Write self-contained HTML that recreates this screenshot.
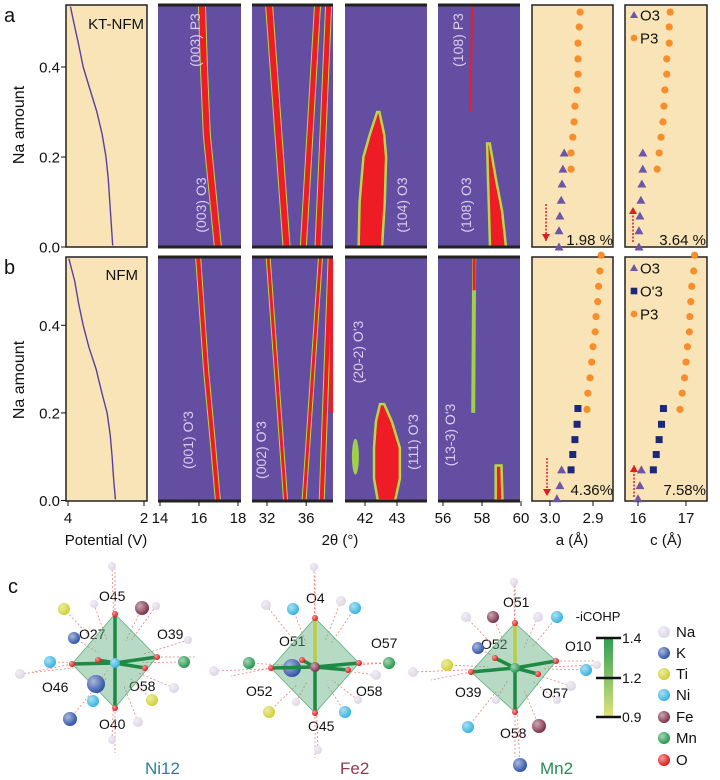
<!DOCTYPE html>
<html><head><meta charset="utf-8"><style>
html,body{margin:0;padding:0;background:#fff}
svg{display:block;font-family:"Liberation Sans",sans-serif}
</style></head><body>
<svg id="fig" width="720" height="780" viewBox="0 0 720 780">
<defs>
<linearGradient id="cb" x1="0" y1="0" x2="0" y2="1"><stop offset="0" stop-color="#2e9e57"/><stop offset="1" stop-color="#dfe57a"/></linearGradient>
<radialGradient id="sh" cx="0.35" cy="0.35" r="0.7"><stop offset="0" stop-color="#fff" stop-opacity="0.6"/><stop offset="1" stop-color="#fff" stop-opacity="0"/></radialGradient>
</defs>
<g id="panels"></g>
<g id="marks"></g>
<g id="labels"></g>
<g id="struct"></g>
</svg>
<script>
// ---- data ----
const naPotA=[0.54,0.5,0.45,0.4,0.35,0.3,0.25,0.2,0.15,0.1,0.05,0.0];
const potA=[3.95,3.85,3.72,3.6,3.42,3.24,3.1,3.0,2.94,2.9,2.86,2.82];
const naPotB=[0.56,0.5,0.45,0.4,0.35,0.3,0.25,0.2,0.15,0.1,0.05,0.0];
const potB=[4.0,3.82,3.72,3.6,3.45,3.26,3.12,2.97,2.89,2.84,2.8,2.75];
// row a peak bands (na, 2theta)
const bandA003Na=[0.54,0.4,0.25,0.0], bandA003Pos=[16.15,16.25,16.4,16.97];
const bandA3aNa=[0.54,0.0], bandA3aPos=[32.2,34.0];
const bandA3bNa=[0.54,0.0], bandA3bPos=[37.16,35.7];
const bandA3cNa=[0.54,0.0], bandA3cPos=[38.3,37.2];
const blobA104Na=[0.3,0.25,0.2,0.1,0.0], blobA104L=[42.38,42.15,41.95,41.83,41.8], blobA104R=[42.45,42.6,42.66,42.62,42.53];
const bandA108P3Na=[0.54,0.4,0.3], bandA108P3Pos=[57.49,57.44,57.38];
const blobA108Na=[0.23,0.15,0.08,0.0], blobA108L=[58.26,58.31,58.36,58.41], blobA108R=[58.4,58.72,59.03,59.23];
// row b
const bandB001Na=[0.56,0.3,0.15,0.0], bandB001Pos=[15.95,16.36,16.67,16.97];
const bandB3aNa=[0.56,0.0], bandB3aPos=[32.1,33.9];
const bandB3bNa=[0.56,0.0], bandB3bPos=[37.47,35.79];
const bandB3cNa=[0.56,0.0], bandB3cPos=[38.5,37.58];
const blobB111Na=[0.22,0.18,0.12,0.05,0.0], blobB111L=[42.47,42.34,42.28,42.28,42.4], blobB111R=[42.6,42.84,43.09,43.09,42.94];
const bandB133Na=[0.56,0.2], bandB133Pos=[57.6,57.55];
const blobB133Na=[0.08,0.0], blobB133L=[58.7,58.7], blobB133R=[59.0,59.05];
// lattice parameters
const aP3NaA=[0.522,0.489,0.453,0.418,0.384,0.349,0.313,0.278,0.244,0.209,0.173];
const aP3A=[2.930,2.932,2.935,2.935,2.935,2.937,2.942,2.944,2.947,2.951,2.951];
const aO3NaA=[0.209,0.173,0.14,0.104,0.069,0.036,0.0];
const aO3A=[2.967,2.970,2.972,2.974,2.977,2.979,2.979];
const cP3A=[16.67,16.65,16.65,16.60,16.60,16.56,16.54,16.52,16.48,16.44,16.40];
const cO3A=[16.10,16.10,16.08,16.06,16.04,16.02,16.02];
const aP3NaB=[0.56,0.524,0.489,0.454,0.42,0.385,0.351,0.316,0.28,0.245,0.208];
const aP3B=[2.881,2.884,2.887,2.889,2.893,2.895,2.900,2.903,2.907,2.912,2.914];
const aO3pNaB=[0.21,0.174,0.139,0.105,0.07];
const aO3pB=[2.935,2.937,2.942,2.947,2.951];
const aO3NaB=[0.07,0.034,0.004];
const aO3B=[2.973,2.977,2.984];
const cP3B=[17.18,17.16,17.12,17.10,17.08,17.07,17.03,17.00,16.97,16.92,16.875];
const cO3pB=[16.53,16.49,16.44,16.38,16.32];
const cO3B=[16.07,16.04,16.0];
const naTicks=[0.0,0.2,0.4], naTickLabels=["0.0","0.2","0.4"];

// ---- scales ----
const NS="http://www.w3.org/2000/svg";
const yA=n=>247-n*450, yB=n=>500.5-n*438;
const xV=v=>68+(4-v)*38;
const x2a=t=>160+(t-14)*19.5, x2b=t=>267+(t-32)*9.8, x2c=t=>365+(t-42)*32, x2d=t=>443+(t-56)*19.5;
const xa=a=>550+(3.0-a)*430, xc=c=>638+(c-16)*48;
function mk(tag,at,parent,txt){const e=document.createElementNS(NS,tag);for(const k in at)e.setAttribute(k,at[k]);if(txt!==undefined)e.textContent=txt;document.getElementById(parent).appendChild(e);return e;}

const cols=[[66,147,'b'],[158,241,'h'],[252,333,'h'],[345,427,'h'],[438,520,'h'],[532,613,'b'],[625,707,'b']];
const rows=[[5,247],[257,501]];
const colNames=['potential-panel','xrd-003-panel','xrd-mid-panel','xrd-104-panel','xrd-108-panel','a-param-panel','c-param-panel'];
rows.forEach((r,ri)=>cols.forEach((c,ci)=>{
  const isB=c[2]==='b';
  const e=mk('rect',{x:c[0],y:r[0],width:c[1]-c[0],height:r[1]-r[0],fill:isB?'#f9e4b7':'#634ea1',stroke:isB?'#222':'none','stroke-width':1.5},'panels');
  
  
  if(!isB){
    const t=mk('line',{x1:c[0],x2:c[1],y1:r[0],y2:r[0],stroke:'#222','stroke-width':3},'panels');
    
    
    const b=mk('line',{x1:c[0],x2:c[1],y1:r[1],y2:r[1],stroke:'#222','stroke-width':3},'panels');
    
    
  }
}));
cols.forEach((c,ci)=>rows.forEach((r,ri)=>{
  const cp=mk('clipPath',{id:'cp'+ci+'_'+ri},'panels');
  const rr=document.createElementNS(NS,'rect');rr.setAttribute('x',c[0]);rr.setAttribute('y',r[0]+1.5);rr.setAttribute('width',c[1]-c[0]);rr.setAttribute('height',r[1]-r[0]-3);cp.appendChild(rr);
}));
function grp(ci,ri,name){const g=mk('g',{'clip-path':'url(#cp'+ci+'_'+ri+')'},'marks');return g;}
function line(g,nas,vals,xf,yf,color,w,name){
  const d=nas.map((n,i)=>(i?'L':'M')+xf(vals[i]).toFixed(1)+','+yf(n).toFixed(1)).join('');
  const p=document.createElementNS(NS,'path');p.setAttribute('d',d);p.setAttribute('fill','none');p.setAttribute('stroke',color);p.setAttribute('stroke-width',w);p.setAttribute('stroke-linejoin','round');
  
  
  g.appendChild(p);return p;
}
function band(g,nas,vals,xf,yf,w,name){line(g,nas,vals,xf,yf,'#b8d84a',w+2,name+'-halo');line(g,nas,vals,xf,yf,'#ee1c24',w,name);}
function blob(g,nas,L,R,xf,yf,name){
  let d='M'+nas.map((n,i)=>xf(L[i]).toFixed(1)+','+yf(n).toFixed(1)).join('L');
  for(let i=nas.length-1;i>=0;i--)d+='L'+xf(R[i]).toFixed(1)+','+yf(nas[i]).toFixed(1);
  d+='Z';
  const h=document.createElementNS(NS,'path');h.setAttribute('d',d);h.setAttribute('fill','#ee1c24');h.setAttribute('stroke','#b8d84a');h.setAttribute('stroke-width',2.5);
  
  
  g.appendChild(h);
}
line(grp(0,0,'potential-a'),naPotA,potA,xV,yA,'#5a3fa0',1.4,'potential-curve-a');
line(grp(0,1,'potential-b'),naPotB,potB,xV,yB,'#5a3fa0',1.4,'potential-curve-b');
let g=grp(1,0,'heat-a-003');band(g,bandA003Na,bandA003Pos,x2a,yA,6,'peak-003');
g=grp(2,0,'heat-a-mid');band(g,bandA3aNa,bandA3aPos,x2b,yA,6,'peak-a1');band(g,bandA3bNa,bandA3bPos,x2b,yA,5,'peak-a2');band(g,bandA3cNa,bandA3cPos,x2b,yA,5,'peak-a3');
g=grp(3,0,'heat-a-104');blob(g,blobA104Na,blobA104L,blobA104R,x2c,yA,'peak-104');
g=grp(4,0,'heat-a-108');line(g,bandA108P3Na,bandA108P3Pos,x2d,yA,'#ee1c24',2,'peak-108-p3');blob(g,blobA108Na,blobA108L,blobA108R,x2d,yA,'peak-108-o3');
g=grp(1,1,'heat-b-001');band(g,bandB001Na,bandB001Pos,x2a,yB,4,'peak-001');
g=grp(2,1,'heat-b-mid');band(g,bandB3aNa,bandB3aPos,x2b,yB,3,'peak-b1');band(g,bandB3bNa,bandB3bPos,x2b,yB,3,'peak-b2');band(g,bandB3cNa,bandB3cPos,x2b,yB,4,'peak-b3');
line(g,[0.56,0.2],[38.7,38.6],x2b,yB,'#ee1c24',5,'peak-b3-thick');
g=grp(3,1,'heat-b-111');blob(g,blobB111Na,blobB111L,blobB111R,x2c,yB,'peak-111');
mk('ellipse',{cx:x2c(41.7),cy:yB(0.1),rx:3.5,ry:18,fill:'#9fd04a'},'marks');
g=grp(4,1,'heat-b-133');line(g,bandB133Na,bandB133Pos,x2d,yB,'#9fd04a',4,'peak-133');line(g,[0.56,0.48],[57.6,57.6],x2d,yB,'#ee1c24',3,'peak-133-top');blob(g,blobB133Na,blobB133L,blobB133R,x2d,yB,'peak-133-o3');
function pts(nas,vals,xf,yf,shape,color,name){
  const G=mk('g',{},'marks');
  
  
  nas.forEach((n,i)=>{const x=xf(vals[i]),y=yf(n);let e;
    if(shape==='c'){e=document.createElementNS(NS,'circle');e.setAttribute('cx',x);e.setAttribute('cy',y);e.setAttribute('r',3.6);}
    else if(shape==='t'){e=document.createElementNS(NS,'polygon');e.setAttribute('points',`${x},${y-4.5} ${x-4.5},${y+3.5} ${x+4.5},${y+3.5}`);}
    else {e=document.createElementNS(NS,'rect');e.setAttribute('x',x-3.5);e.setAttribute('y',y-3.5);e.setAttribute('width',7);e.setAttribute('height',7);}
    e.setAttribute('fill',color);
    
    
    G.appendChild(e);});
}
const OR='#f78e2b',TR='#6e55a8',SQ='#1e2878';
pts(aP3NaA,aP3A,xa,yA,'c',OR,'a-p3-row-a');pts(aO3NaA,aO3A,xa,yA,'t',TR,'a-o3-row-a');
pts(aP3NaA,cP3A,xc,yA,'c',OR,'c-p3-row-a');pts(aO3NaA,cO3A,xc,yA,'t',TR,'c-o3-row-a');
pts(aP3NaB,aP3B,xa,yB,'c',OR,'a-p3-row-b');pts(aO3pNaB,aO3pB,xa,yB,'s',SQ,'a-o3p-row-b');pts(aO3NaB,aO3B,xa,yB,'t',TR,'a-o3-row-b');
pts(aP3NaB,cP3B,xc,yB,'c',OR,'c-p3-row-b');pts(aO3pNaB,cO3pB,xc,yB,'s',SQ,'c-o3p-row-b');pts(aO3NaB,cO3B,xc,yB,'t',TR,'c-o3-row-b');

function T(x,y,s,txt,name,extra){const e=mk('text',Object.assign({x:x,y:y,'font-size':s,fill:'#111'},extra||{}),'labels',txt);return e;}
[yA,yB].forEach((yf,ri)=>{naTicks.forEach((n,i)=>{T(60,yf(n)+5.5,15,naTickLabels[i],'y-tick-label',{'text-anchor':'end'});
 const l=mk('line',{x1:61,x2:66,y1:yf(n),y2:yf(n),stroke:'#111'},'labels');});
 T(24,ri?380:125,16,'Na amount','y-axis-title',{'text-anchor':'middle',transform:`rotate(-90 24 ${ri?380:125})`});});
T(4,22,20,'a','panel-a-label');T(4,274,20,'b','panel-b-label');T(8,593,20,'c','panel-c-label');
T(144,29,15,'KT-NFM','kt-nfm-label',{'text-anchor':'end'});T(138,280,15,'NFM','nfm-label',{'text-anchor':'end'});
const xt=[[xV(4),'4'],[xV(2),'2'],[x2a(14),'14'],[x2a(16),'16'],[x2a(18),'18'],[x2b(32),'32'],[x2b(36),'36'],[x2c(42),'42'],[x2c(43),'43'],[x2d(56),'56'],[x2d(58),'58'],[x2d(60),'60'],[xa(3.0),'3.0'],[xa(2.9),'2.9'],[xc(16),'16'],[xc(17),'17']];
xt.forEach(t=>{T(t[0],523,15,t[1],'x-tick-label',{'text-anchor':'middle'});const l=mk('line',{x1:t[0],x2:t[0],y1:501,y2:506,stroke:'#111'},'labels');});
T(106,545,15,'Potential (V)','x-title-potential',{'text-anchor':'middle'});T(340,545,15,'2θ (°)','x-title-2theta',{'text-anchor':'middle'});
T(572,545,15,'a (Å)','x-title-a',{'text-anchor':'middle'});T(666,545,15,'c (Å)','x-title-c',{'text-anchor':'middle'});
const pl=[[200,40,'(003) P3'],[206,205,'(003) O3'],[407,205,'(104) O3'],[463,40,'(108) P3'],[471,205,'(108) O3'],[193,440,"(001) O'3"],[266,450,"(002) O'3"],[363,352,"(20-2) O'3"],[418,442,"(111) O'3"],[455,435,"(13-3) O'3"]];
pl.forEach(p=>T(p[0],p[1],14,p[2],'peak-label',{fill:'#d8d0ef','text-anchor':'middle',transform:`rotate(-90 ${p[0]} ${p[1]})`}));
function arrow(x,y1,y2,name){const l=mk('line',{x1:x,x2:x,y1:y1,y2:y2,stroke:'#e01b24','stroke-width':1.5,'stroke-dasharray':'2 1.5'},'labels');
 const d=y2>y1?1:-1;const h=mk('polygon',{points:`${x},${y2} ${x-4},${y2-7*d} ${x+4},${y2-7*d}`,fill:'#e01b24'},'labels');}
arrow(546,204,241,'arrow-a-row-a');arrow(633,242,207,'arrow-c-row-a');arrow(547,458,496,'arrow-a-row-b');arrow(634,497,465,'arrow-c-row-b');
T(613,245,15,'1.98 %','shrink-a-row-a',{'text-anchor':'end'});T(706,245,15,'3.64 %','shrink-c-row-a',{'text-anchor':'end'});
T(613,495,15,'4.36%','shrink-a-row-b',{'text-anchor':'end'});T(706,495,15,'7.58%','shrink-c-row-b',{'text-anchor':'end'});
function leg(x,y,shape,color,txt){const G=mk('g',{},'labels');
 let e;if(shape==='t'){e=document.createElementNS(NS,'polygon');e.setAttribute('points',`${x},${y-4} ${x-4},${y+3} ${x+4},${y+3}`);}else if(shape==='c'){e=document.createElementNS(NS,'circle');e.setAttribute('cx',x);e.setAttribute('cy',y);e.setAttribute('r',3.4);}else{e=document.createElementNS(NS,'rect');e.setAttribute('x',x-3.3);e.setAttribute('y',y-3.3);e.setAttribute('width',6.6);e.setAttribute('height',6.6);}
 e.setAttribute('fill',color);G.appendChild(e);const t=document.createElementNS(NS,'text');t.setAttribute('x',x+6);t.setAttribute('y',y+5.5);t.setAttribute('font-size',15);t.setAttribute('fill','#111');t.textContent=txt;G.appendChild(t);}
leg(634,15,'t',TR,'O3');leg(634,38,'c',OR,'P3');
leg(634,268,'t',TR,'O3');leg(634,291,'s',SQ,"O'3");leg(634,314,'c',OR,'P3');

const COL={Na:'#ddd4e6',K:'#2a4ea6',Ti:'#cfcf2a',Ni:'#2fb1e0',Fe:'#7a2a45',Mn:'#1e9448',O:'#e01010'};
function ball(x,y,r,el){const c=mk('circle',{cx:x,cy:y,r:r,fill:COL[el]},'struct');mk('circle',{cx:x,cy:y,r:r,fill:'url(#sh)'},'struct');}
function dl(x1,y1,x2,y2,c){const l=mk('line',{x1,y1,x2,y2,stroke:c||'#f08080','stroke-width':0.8,'stroke-dasharray':'2 2'},'struct');}
function octa(cx,cy,O,centerEl,others,name){
  const [t,b,l,r,f,k]=O;
  others.forEach(a=>dl(a[0],a[1],cx+(a[0]-cx)*0.4,cy+(a[1]-cy)*0.4));
  dl(t[0],t[1],t[0],t[1]-45);dl(b[0],b[1],b[0],b[1]+45);dl(l[0],l[1],l[0]-40,l[1]+8);dl(r[0],r[1],r[0]+40,r[1]);
  const p=mk('polygon',{points:[t,r,b,l].map(q=>q.join(',')).join(' '),fill:'#5fae7e','fill-opacity':0.45,stroke:'#5fae7e','stroke-width':0.8},'struct');
  others.forEach(a=>ball(a[0],a[1],a[2],a[3]));
  [t,b,l,r,f,k].forEach((q,i)=>{const s=mk('line',{x1:cx,y1:cy,x2:q[0],y2:q[1],stroke:i==0&&name!=='ni12'?'#b9cc45':'#1e8a45','stroke-width':3.5,'stroke-linecap':'round'},'struct');});
  ball(cx,cy,5,centerEl);[t,b,l,r,f,k].forEach(q=>ball(q[0],q[1],3,'O'));
}
octa(115,663,[[115,614],[115,708],[72,664],[157,657],[145,668],[98,660]],'Ni',[[64,609,6,'Ti'],[142,608,7,'Fe'],[74,638,6,'K'],[50,662,6,'Ni'],[96,684,9,'K'],[93,701,6,'Ni'],[70,719,7,'K'],[152,700,6,'Ti'],[184,662,6,'Mn'],[20,674,5,'Na'],[174,688,5,'Na'],[138,722,5,'Na'],[112,566,4,'Na'],[112,740,4,'Na'],[94,604,4,'Na'],[156,606,4,'Na'],[188,640,4,'Na']],'ni12');
octa(315,667,[[315,618],[315,713],[271,668],[359,663],[348,670],[302,660]],'Fe',[[292,668,9,'K'],[249,663,6,'Mn'],[389,663,6,'Mn'],[293,609,6,'Ni'],[355,608,6,'Ni'],[269,712,6,'Ti'],[345,712,6,'Ni'],[266,605,5,'Na'],[341,601,5,'Na'],[214,671,5,'Na'],[376,675,5,'Na'],[296,702,4,'Na'],[358,700,4,'Na'],[314,567,4,'Na'],[318,750,4,'Na']],'fe2');
octa(515,668,[[515,623],[515,712],[471,672],[556,661],[538,674],[495,658]],'Mn',[[447,665,6,'Ti'],[478,648,6,'K'],[493,617,6,'Fe'],[557,617,6,'Ni'],[586,670,6,'Ni'],[468,727,6,'Ni'],[539,726,7,'Fe'],[520,765,7,'K'],[413,672,5,'Na'],[466,617,5,'Na'],[538,617,5,'Na'],[571,686,5,'Na'],[496,700,4,'Na'],[557,700,4,'Na'],[514,582,4,'Na'],[597,665,4,'Na']],'mn2');
[[99,601,'O45'],[79,639,'O27'],[157,639,'O39'],[42,692,'O46'],[129,691,'O58'],[99,729,'O40'],
 [306,603,'O4'],[279,646,'O51'],[371,648,'O57'],[246,696,'O52'],[356,696,'O58'],[308,731,'O45'],
 [503,607,'O51'],[481,649,'O52'],[565,651,'O10'],[455,697,'O39'],[542,698,'O57'],[500,738,'O58']].forEach(o=>T(o[0],o[1],14,o[2],'oxygen-label'));
T(145,774,17,'Ni12','ni12-label',{fill:'#2a7fa0'});T(340,774,17,'Fe2','fe2-label',{fill:'#8b3a55'});T(540,774,17,'Mn2','mn2-label',{fill:'#2a8a55'});
const cbx=604;const cb=mk('rect',{x:cbx,y:638,width:9,height:79,fill:'url(#cb)'},'struct');
T(598,621,13,'-iCOHP','colorbar-title',{'text-anchor':'middle'});
[[638,'1.4'],[678,'1.2'],[717,'0.9']].forEach(t=>{const l=mk('line',{x1:cbx-8,x2:cbx+17,y1:t[0],y2:t[0],stroke:'#111','stroke-width':2.5},'struct');T(cbx+18,t[0]+5,14,t[1],'colorbar-tick-label');});
[['Na',632],['K',653],['Ti',674],['Ni',695],['Fe',717],['Mn',738],['O',760]].forEach(e=>{ball(664,e[1],6,e[0]);T(676,e[1]+5,15,e[0],'element-legend-'+e[0].toLowerCase());});
</script>
</body></html>
